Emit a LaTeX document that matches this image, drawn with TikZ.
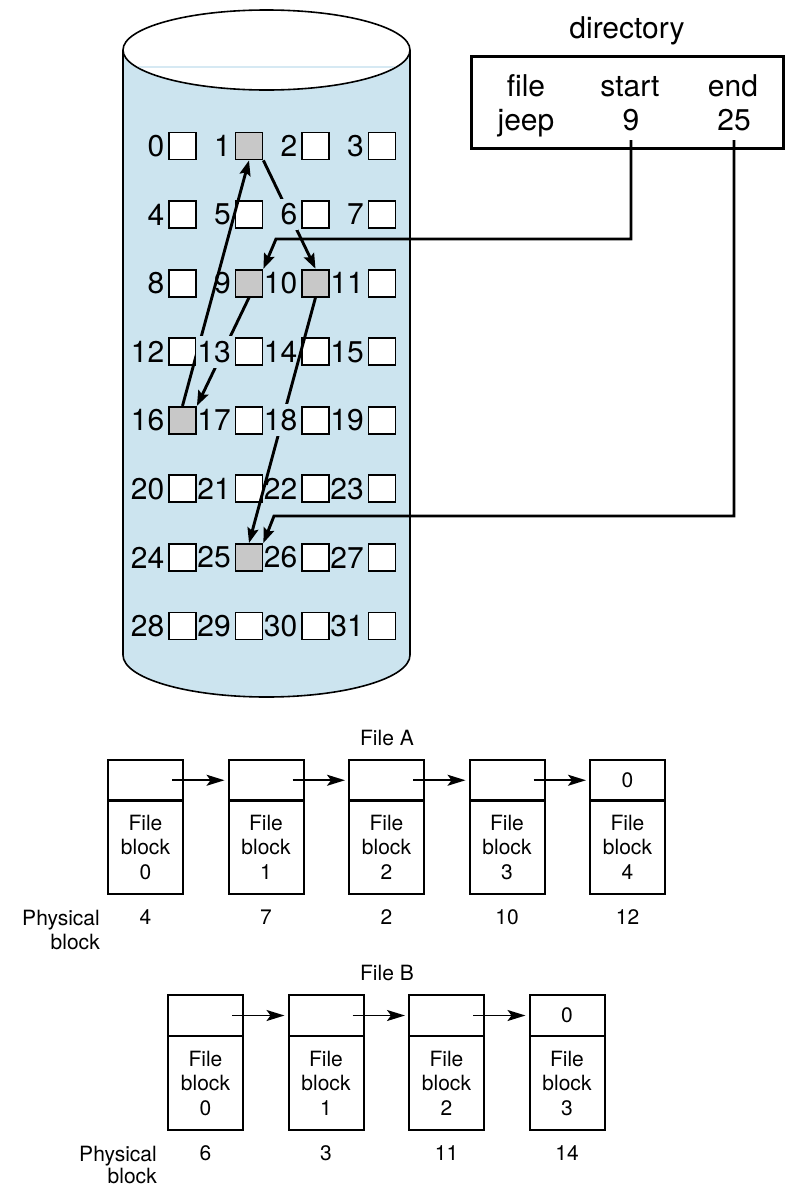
\documentclass[tikz,border=0pt]{standalone}
\usepackage{fontspec}
\setmainfont{TeX Gyre Heros}
\usetikzlibrary{arrows.meta,calc}
\definecolor{cylblue}{RGB}{204,228,239}
\definecolor{surf}{RGB}{214,233,243}
\definecolor{blkgray}{RGB}{200,200,200}
\newcommand{\bigtxt}{\fontsize{30}{34}\selectfont}
\newcommand{\smtxt}{\fontsize{21}{24.5}\selectfont}
\begin{document}
\begin{tikzpicture}[x=1pt,y=-1pt,
  blk/.style={draw, line width=1.8pt, minimum size=27pt, inner sep=0pt},
  lbl/.style={anchor=east, inner xsep=1pt, inner ysep=5pt, font=\bigtxt},
  dtext/.style={anchor=base, inner sep=0pt, font=\bigtxt},
  jarrow/.style={line width=2.9pt, -{Stealth[length=15pt,width=11pt,inset=2.5pt]}},
  topcell/.style={draw, line width=2pt, minimum width=75pt, minimum height=40.5pt, inner sep=0pt, font=\smtxt},
  botcell/.style={draw, line width=2pt, minimum width=75pt, minimum height=94pt, inner sep=0pt, align=center, font=\smtxt},
  smlbl/.style={inner sep=0pt, font=\smtxt},
  phys/.style={anchor=north east, inner sep=0pt, align=right, font=\smtxt},
  farrow/.style={line width=1.8pt, -{Stealth[length=18pt,width=11pt,inset=4pt]}}
]
\useasboundingbox (0,0) rectangle (790,1192);

% cylinder
\fill[cylblue] (123,50) -- (123,655) .. controls (123,678.2) and (187.2,697) .. (266.5,697)
  .. controls (345.8,697) and (410,678.2) .. (410,655) -- (410,50) -- cycle;
\draw[line width=1.6pt] (123,50) -- (123,655) .. controls (123,678.2) and (187.2,697) .. (266.5,697)
  .. controls (345.8,697) and (410,678.2) .. (410,655) -- (410,50);
\draw[line width=1.6pt, fill=white] (266.5,50) ellipse [x radius=143.5, y radius=40];
\begin{scope}
  \clip (266.5,50) ellipse [x radius=142, y radius=38.5];
  \draw[surf, line width=2pt] (115,67) -- (415,67);
\end{scope}

% blocks
\foreach \i in {0,...,31}{
  \pgfmathtruncatemacro\r{int(\i/4)}
  \pgfmathtruncatemacro\c{mod(\i,4)}
  \pgfmathsetmacro\xx{182.5+66.5*\c}
  \pgfmathsetmacro\yy{146+68.57*\r}
  \pgfmathtruncatemacro\sh{(\i==1)||(\i==9)||(\i==10)||(\i==16)||(\i==25)}
  \ifnum\sh=1 \def\fc{blkgray}\else\def\fc{white}\fi
  \node[blk, fill=\fc] (b\i) at (\xx,\yy) {};
}

% directory
\node[draw, line width=2.8pt, minimum width=312pt, minimum height=92pt, inner sep=0pt, anchor=north west] (dir) at (470,55) {};
\node[dtext] (dtitle) at (627,38) {directory};
\node[dtext] (hfile) at (526,96) {file};
\node[dtext] (hstart) at (630,96) {start};
\node[dtext] (hend) at (733,96) {end};
\node[dtext] (jeep) at (526,130) {jeep};
\node[dtext] (s9) at (631,130) {9};
\node[dtext] (e25) at (734,130) {25};

% jeep chain
\draw[jarrow] (b9.south) -- (b16.north east);
\draw[jarrow] (b16.north) -- (b1.south);
\draw[jarrow] (b1.south east) -- (b10.north);
\draw[jarrow] (b10.south) -- (b25.north);

\coordinate (k9) at (276,239);
\coordinate (k25) at (274,516);
\draw[jarrow] ($(s9.base)+(0,10)$) |- (k9) -- (b9.north east);
\draw[jarrow] ($(e25.base)+(0,10)$) |- (k25) -- (b25.north east);

% labels
\foreach \i in {0,...,31}{
  \pgfmathtruncatemacro\m{(\i==6)||(\i==13)||(\i==18)}
  \ifnum\m=1 \def\lf{cylblue}\else\def\lf{none}\fi
  \node[lbl, fill=\lf] (l\i) at ([xshift=-17pt]b\i.center) {\i};
}

% File A
\node[smlbl] (fileA) at (387,738) {File A};
\foreach \k/\p in {0/4,1/7,2/2,3/10,4/12}{
  \pgfmathsetmacro\xx{145.5+120.5*\k}
  \node[topcell] (ta\k) at (\xx,780.25) {\ifnum\k=4 0\fi};
  \node[botcell] (ba\k) at (\xx,847) {File\\block\\\k};
  \node[smlbl] (pa\k) at (\xx,917) {\p};
}
\foreach \k in {0,...,3}{
  \pgfmathtruncatemacro\n{\k+1}
  \draw[farrow] ([xshift=-12pt]ta\k.east) -- ([xshift=-3pt]ta\n.west);
}
\node[phys] (physA) at (100,909.5) {Physical\\block};

% File B
\node[smlbl] (fileB) at (387,973) {File B};
\foreach \k/\p in {0/6,1/3,2/11,3/14}{
  \pgfmathsetmacro\xx{205.5+120.5*\k}
  \node[topcell] (tb\k) at (\xx,1015.5) {\ifnum\k=3 0\fi};
  \node[botcell] (bb\k) at (\xx,1083) {File\\block\\\k};
  \node[smlbl] (pb\k) at (\xx,1153) {\p};
}
\foreach \k in {0,...,2}{
  \pgfmathtruncatemacro\n{\k+1}
  \draw[farrow] ([xshift=-12pt]tb\k.east) -- ([xshift=-3pt]tb\n.west);
}
\node[phys, font=\fontsize{21}{22.5}\selectfont] (physB) at (157,1145.5) {Physical\\block};
\end{tikzpicture}
\end{document}
